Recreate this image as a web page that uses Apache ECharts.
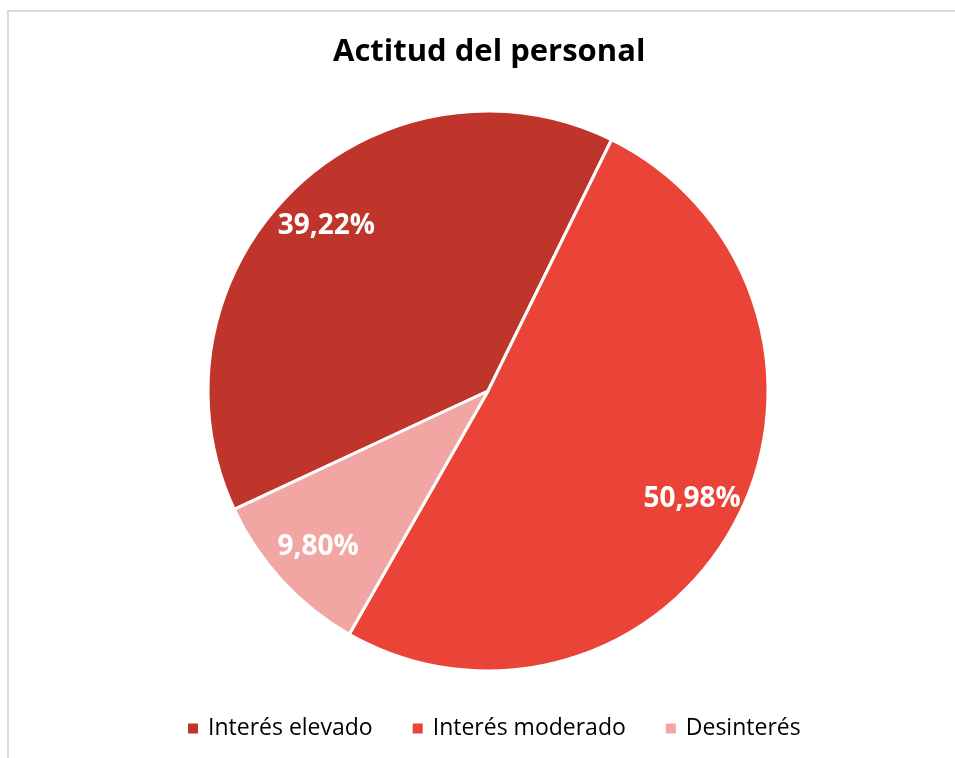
<!DOCTYPE html>
<html>
<head>
<meta charset="utf-8">
<script src="https://cdn.jsdelivr.net/npm/echarts@6/dist/echarts.min.js"></script>
<style>
  html, body { margin: 0; padding: 0; background: #fff; }
  #chart { width: 955px; height: 758px; }
</style>
</head>
<body>
<div id="chart"></div>
<script>
// datos del grafico
var categories = ['Interés elevado', 'Interés moderado', 'Desinterés'];
var counts = [20, 26, 5];
var colors = ['#C0352B', '#EA4337', '#F1A6A4'];

var total = counts.reduce(function (a, b) { return a + b; }, 0);
var pieData = categories.map(function (name, i) {
  return { name: name, value: counts[i], itemStyle: { color: colors[i] } };
});

function pctLabel(p) {
  return (p.value / total * 100).toFixed(2).replace('.', ',') + '%';
}

var chart = echarts.init(document.getElementById('chart'));
var option = {
  animation: false,
  textStyle: { fontFamily: 'Open Sans' },
  graphic: [
    {
      type: 'rect',
      shape: { x: 8, y: 11, width: 1000, height: 800 },
      style: { fill: 'none', stroke: '#d9d9d9', lineWidth: 2 },
      silent: true
    }
  ],
  title: {
    text: 'Actitud del personal',
    left: 328,
    top: 32,
    textStyle: {
      fontFamily: 'Open Sans',
      fontSize: 31,
      fontWeight: 'bold',
      color: '#000'
    }
  },
  legend: {
    data: categories,
    top: 712,
    left: 183,
    icon: 'rect',
    itemWidth: 10,
    itemHeight: 10,
    itemGap: 40,
    itemStyle: { borderWidth: 0 },
    textStyle: {
      fontFamily: 'Open Sans',
      fontSize: 23,
      color: '#000',
      padding: [0, 0, 0, 5]
    }
  },
  series: [
    {
      // tarta
      type: 'pie',
      center: [488, 391],
      radius: [0, 280],
      startAngle: 205,
      clockwise: true,
      silent: true,
      data: pieData,
      label: { show: false },
      labelLine: { show: false },
      itemStyle: { borderColor: '#fff', borderWidth: 3 },
      emphasis: { disabled: true }
    },
    {
      // solo etiquetas
      type: 'pie',
      center: [488, 391],
      radius: [176, 280],
      startAngle: 205,
      clockwise: true,
      silent: true,
      data: categories.map(function (name, i) {
        return { name: name, value: counts[i] };
      }),
      itemStyle: { color: 'rgba(0,0,0,0)', borderWidth: 0 },
      labelLine: { show: false },
      label: {
        show: true,
        position: 'inside',
        formatter: pctLabel,
        color: '#fff',
        fontFamily: 'Open Sans',
        fontSize: 28,
        fontWeight: 'bold'
      },
      emphasis: { disabled: true }
    }
  ]
};
chart.setOption(option);
</script>
</body>
</html>
